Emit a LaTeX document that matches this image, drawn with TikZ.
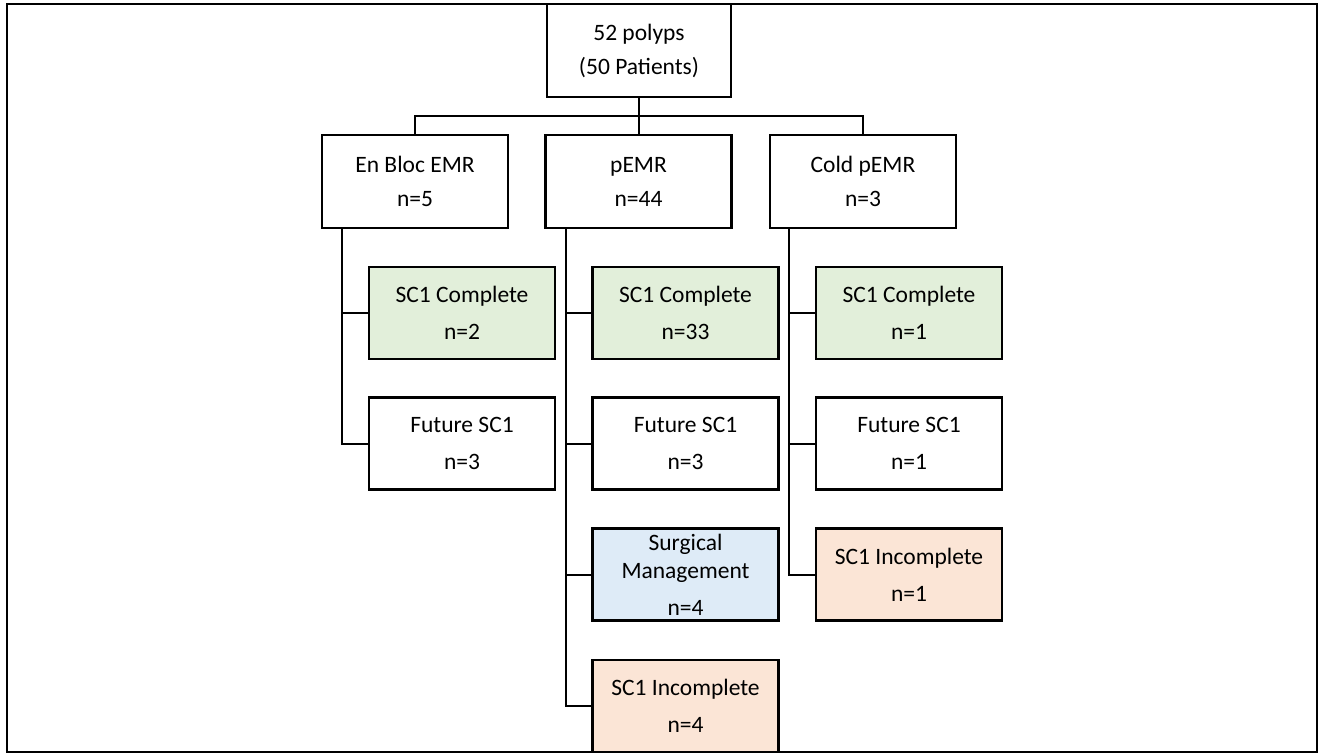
\documentclass[tikz,border=0pt]{standalone}
\usepackage{fontspec}
\setmainfont{Carlito}
\usetikzlibrary{calc}
\definecolor{cgreen}{HTML}{E2EFDA}
\definecolor{cblue}{HTML}{DEEBF7}
\definecolor{corange}{HTML}{FBE5D6}
\tikzset{
  box/.style={draw, line width=2.4pt, fill=white, minimum width=186pt, minimum height=92pt,
    inner sep=0pt, outer sep=0pt, align=center, font=\fontsize{23.5}{28}\selectfont},
  green/.style={box, fill=cgreen},
  blue/.style={box, fill=cblue},
  orange/.style={box, fill=corange},
  conn/.style={line width=2pt},
}
\begin{document}
\begin{tikzpicture}[x=1pt, y=-1pt]
\useasboundingbox (0,0) rectangle (1324,755);
\draw[line width=1.5pt] (7,4) rectangle (1317,752);

% top
\node[box, minimum width=184pt, minimum height=93pt] (top) at (639,50.5) {52 polyps\\[6pt](50 Patients)};

% level 1
\node[box, minimum height=93pt] (eb) at (415,181.5) {En Bloc EMR\\[6pt]n=5};
\node[box, minimum height=93pt] (pe) at (638.5,181.5) {pEMR\\[6pt]n=44};
\node[box, minimum height=93pt] (ce) at (863,181.5) {Cold pEMR\\[6pt]n=3};

% En Bloc children
\node[green] (eb1) at (462,313) {SC1 Complete\\[9pt]n=2};
\node[box] (eb2) at (462,443.5) {Future SC1\\[9pt]n=3};

% pEMR children
\node[green] (pe1) at (685.5,313) {SC1 Complete\\[9pt]n=33};
\node[box] (pe2) at (685.5,443.5) {Future SC1\\[9pt]n=3};
\node[blue] (pe3) at (685.5,574.5) {Surgical\\Management\\[9pt]n=4};
\node[orange] (pe4) at (685.5,706) {SC1 Incomplete\\[9pt]n=4};

% Cold children
\node[green] (ce1) at (909,313) {SC1 Complete\\[9pt]n=1};
\node[box] (ce2) at (909,443.5) {Future SC1\\[9pt]n=1};
\node[orange] (ce3) at (909,574.5) {SC1 Incomplete\\[9pt]n=1};

% bus
\coordinate (bus) at (639,116);
\draw[conn] (top.south) -- (top.south |- bus);
\draw[conn] (eb.north) -- (eb.north |- bus) -- (ce.north |- bus) -- (ce.north);
\draw[conn] (pe.north) -- (pe.north |- bus);

% trunks
\coordinate (t1) at ([xshift=20pt]eb.south west);
\coordinate (t2) at ([xshift=20pt]pe.south west);
\coordinate (t3) at ([xshift=19pt]ce.south west);
\draw[conn] (t1) |- (eb1.west);
\draw[conn] (t1) |- (eb2.west);
\draw[conn] (t2) |- (pe1.west);
\draw[conn] (t2) |- (pe2.west);
\draw[conn] (t2) |- (pe3.west);
\draw[conn] (t2) |- (pe4.west);
\draw[conn] (t3) |- (ce1.west);
\draw[conn] (t3) |- (ce2.west);
\draw[conn] (t3) |- (ce3.west);
\end{tikzpicture}
\end{document}
